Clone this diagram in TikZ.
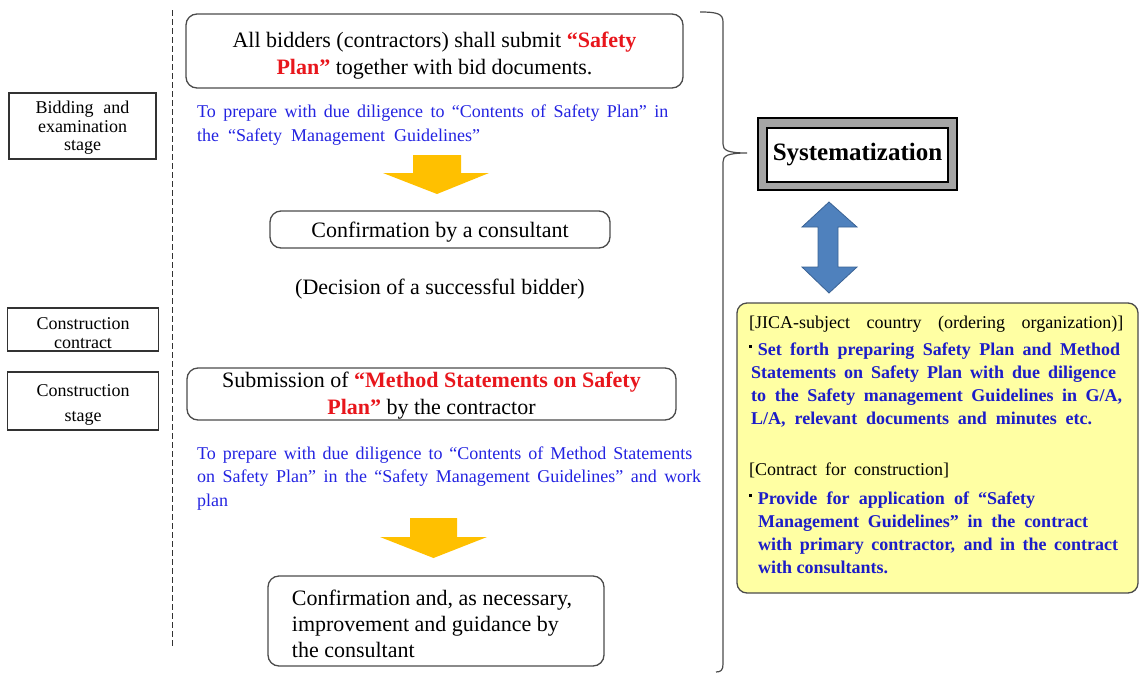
\documentclass[tikz,border=0pt]{standalone}
\usepackage{fontspec}
\setmainfont{Liberation Serif}

\definecolor{alertRed}{RGB}{232,22,28}
\definecolor{noteBlue}{RGB}{35,35,225}
\definecolor{policyBlue}{RGB}{28,28,200}
\definecolor{noteYellow}{RGB}{255,255,163}
\definecolor{arrowYellow}{RGB}{255,192,0}
\definecolor{arrowBlue}{RGB}{79,129,189}
\definecolor{arrowBlueEdge}{RGB}{58,98,148}
\definecolor{boxGray}{RGB}{75,75,75}
\definecolor{stageGray}{RGB}{50,50,50}
\definecolor{frameGray}{RGB}{165,165,165}

% stack of lines whose baseline is the first line
\newcommand\linestack[2]{\vtop{\baselineskip=#1\lineskiplimit=-100pt\lineskip=0pt #2}}
% small square bullet
\newcommand\sqbullet{{\color{black}\raisebox{0.4em}{\rule{2.6pt}{2.6pt}}}\hspace{6pt}}

\begin{document}
\begin{tikzpicture}[x=1pt,y=-1pt,
  stagebox/.style={draw=stageGray, line width=1.4pt, inner sep=0pt},
  stagetext/.style={align=center, inner sep=0pt, font=\fontsize{18pt}{18.5pt}\selectfont},
  roundbox/.style={draw=boxGray, line width=1.3pt, rounded corners=11pt, inner sep=0pt},
  boxtext/.style={align=center, inner sep=0pt, font=\fontsize{22pt}{27pt}\selectfont},
  noteText/.style={anchor=base west, inner sep=0pt, text=noteBlue,
    font=\fontsize{18pt}{24pt}\selectfont},
  blockArrow/.style={fill=arrowYellow, draw=none},
  stageline/.style={draw=stageGray, line width=1pt, dash pattern=on 6pt off 3pt},
  braceline/.style={draw=boxGray, line width=1.2pt}]

\useasboundingbox (0,0) rectangle (1140,675);

% stage labels on the left
\node[stagebox, minimum width=147pt, minimum height=66pt] (bid) at (82.5,126) {};
\node[stagetext] (bidtext) at (82.5,128) {Bidding\hspace{0.55em}and\\examination\\stage};
\node[stagebox, minimum width=151pt, minimum height=43pt] (contract) at (83,329.5) {};
\node[stagetext, font=\fontsize{18pt}{19pt}\selectfont] (contracttext) at (83,333.5)
  {Construction\\contract};
\node[stagebox, minimum width=151pt, minimum height=58pt] (cstage) at (83,401) {};
\node[stagetext, font=\fontsize{18pt}{25pt}\selectfont] (cstagetext) at (83,405)
  {Construction\\stage};

% dashed separator
\coordinate (dtop) at (172,10);
\coordinate (dbot) at (172,647);
\draw[stageline] (dtop) -- (dbot);

% bidding stage flow
\node[roundbox, minimum width=497pt, minimum height=74pt] (submit) at (434.5,51) {};
\node[boxtext] (submittext) at (434.5,56)
  {All bidders (contractors) shall submit \textcolor{alertRed}{\bfseries “Safety}\\
   \textcolor{alertRed}{\bfseries Plan”} together with bid documents.};

\node[noteText] (note1) at (197,117) {\linestack{24pt}{%
  \hbox to 471pt{To prepare with due diligence to “Contents of Safety Plan” in}
  \hbox to 283pt{the “Safety Management Guidelines”}}};

\fill[blockArrow] (413,155) -- (461,155) -- (461,173) -- (489,173) -- (437,194)
  -- (383,173) -- (413,173) -- cycle;

\node[roundbox, minimum width=340pt, minimum height=37pt] (confirm) at (440,229.5) {};
\node[boxtext] (confirmtext) at (440,232.5) {Confirmation by a consultant};

\node[boxtext] (decision) at (440,289.5) {(Decision of a successful bidder)};

% construction stage flow
\node[roundbox, minimum width=489pt, minimum height=52pt] (method) at (431.5,394) {};
\node[boxtext] (methodtext) at (431.5,396)
  {Submission of \textcolor{alertRed}{\bfseries “Method Statements on Safety}\\
   \textcolor{alertRed}{\bfseries Plan”} by the contractor};

\node[noteText] (note2) at (197,459) {\linestack{23.5pt}{%
  \hbox to 495pt{To prepare with due diligence to “Contents of Method Statements}
  \hbox to 504pt{on Safety Plan” in the “Safety Management Guidelines” and work}
  \hbox{plan}}};

\fill[blockArrow] (410,518) -- (457,518) -- (457,537) -- (487,537) -- (433.5,558)
  -- (380,537) -- (410,537) -- cycle;

\node[roundbox, minimum width=336pt, minimum height=90pt] (guide) at (436,621) {};
\node[boxtext, align=left, font=\fontsize{22pt}{26pt}\selectfont] (guidetext) at (432,624)
  {Confirmation and, as necessary,\\improvement and guidance by\\the consultant};

% brace gathering both stages
\coordinate (braceTop) at (700,12);
\coordinate (braceTip) at (747,153);
\coordinate (braceBot) at (716,672);
\draw[braceline] (braceTop) .. controls (718,12) and (723,14) .. (723,22)
  -- (723,144) .. controls (723,150) and (727,153) .. (braceTip)
  .. controls (727,153) and (723,156) .. (723,162)
  -- (723,664) .. controls (723,670) and (721,672) .. (braceBot);

% systematization frame
\node[draw=black, line width=1.8pt, fill=frameGray, minimum width=199pt,
  minimum height=72pt, inner sep=0pt] (sysframe) at (857.5,154) {};
\node[draw=black, line width=2.4pt, fill=white, minimum width=181pt,
  minimum height=54pt, inner sep=0pt,
  font=\bfseries\fontsize{25pt}{30pt}\selectfont] (sys) at (857.5,155)
  {Systematization};

% two-way arrow
\filldraw[fill=arrowBlue, draw=arrowBlueEdge, line width=0.8pt]
  (829,202) -- (857,227) -- (838,227) -- (838,267) -- (857,267) -- (829,293)
  -- (802,267) -- (818,267) -- (818,227) -- (802,227) -- cycle;

% ordering organization box
\node[draw=boxGray, line width=1.3pt, fill=noteYellow, rounded corners=10pt,
  minimum width=401pt, minimum height=290pt, inner sep=0pt] (policy) at (937.5,448) {};

\node[anchor=base west, inner sep=0pt, text=policyBlue,
  font=\fontsize{18pt}{23pt}\selectfont\bfseries] (policytext) at (749,328)
  {\linestack{23pt}{%
  \hbox to 374pt{\mdseries\color{black}[JICA-subject country (ordering organization)]}
  \vskip4pt
  \hbox to 371pt{\sqbullet Set forth preparing Safety Plan and Method}
  \hbox to 367pt{\kern2pt Statements on Safety Plan with due diligence}
  \hbox to 373pt{\kern2pt to the Safety management Guidelines in G/A,}
  \hbox to 343pt{\kern2pt L/A, relevant documents and minutes etc.}
  \vskip28pt
  \hbox to 200pt{\mdseries\color{black}[Contract for construction]}
  \vskip6pt
  \hbox to 286pt{\sqbullet Provide for application of “Safety}
  \hbox to 339pt{\kern9pt Management Guidelines” in the contract}
  \hbox to 369pt{\kern9pt with primary contractor, and in the contract}
  \hbox{\kern9pt with consultants.}}};

\end{tikzpicture}
\end{document}
